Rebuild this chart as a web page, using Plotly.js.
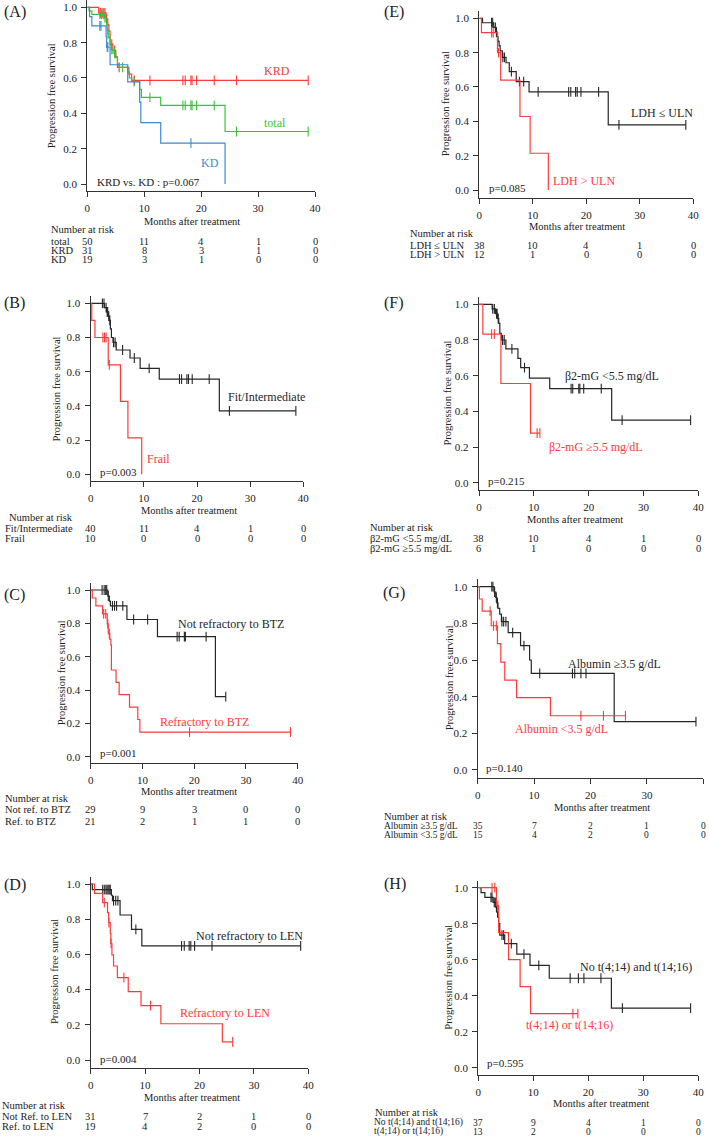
<!DOCTYPE html>
<html><head><meta charset="utf-8">
<script src="https://cdn.plot.ly/plotly-3.0.1.min.js"></script>
<style>html,body{margin:0;padding:0;background:#fff}</style>
</head><body><div id="chart" style="width:709px;height:1137px"></div>
<script>
// ---------------- DATA ----------------
const riskTimes = [0, 10, 20, 30, 40];
const xTicks = [0, 10, 20, 30, 40];
const yTicks = [0, 0.2, 0.4, 0.6, 0.8, 1.0];

// (A)
const A_total_t = [0.3, 0.8, 3.0, 3.3, 3.4, 3.5, 3.6, 3.8, 4.0, 4.2, 4.5, 5.0, 5.3, 5.6, 7.1, 7.4, 7.8, 9.2, 9.5, 12.9, 24.2];
const A_total_s = [0.98, 0.96, 0.94, 0.92, 0.90, 0.875, 0.85, 0.83, 0.785, 0.76, 0.74, 0.715, 0.68, 0.66, 0.635, 0.60, 0.58, 0.535, 0.49, 0.445, 0.297];
const A_total_c = [2.2, 2.5, 2.8, 3.1, 3.65, 4.3, 4.8, 6.2, 8.2, 11.0, 16.8, 17.2, 18.2, 18.4, 19.2, 22.3, 26.2, 38.8];
const A_krd_t = [2.0, 3.3, 3.6, 3.8, 4.0, 4.5, 5.0, 5.3, 7.3, 7.8];
const A_krd_s = [0.968, 0.935, 0.90, 0.865, 0.792, 0.756, 0.72, 0.66, 0.622, 0.587];
const A_krd_c = [2.3, 2.6, 2.9, 3.1, 3.4, 4.3, 4.8, 5.6, 8.3, 11.0, 16.8, 17.2, 18.2, 18.4, 19.2, 22.3, 26.2, 38.8];
const A_kd_t = [0.4, 0.8, 3.3, 3.4, 4.0, 7.1, 9.2, 9.4, 12.9, 24.2];
const A_kd_s = [0.947, 0.895, 0.835, 0.775, 0.675, 0.578, 0.463, 0.347, 0.231, 0];
const A_kd_c = [2.2, 2.4, 3.5, 3.6, 18.2];
const A_riskLabels = ["total", "KRD", "KD"];
const A_risk = [[50, 11, 4, 1, 0], [31, 8, 3, 1, 0], [19, 3, 1, 0, 0]];

// (B)
const B_fit_t = [2.6, 3.0, 3.3, 3.5, 3.7, 3.9, 4.2, 4.8, 7.4, 9.3, 12.9, 24.2];
const B_fit_s = [0.975, 0.95, 0.925, 0.90, 0.85, 0.80, 0.772, 0.727, 0.68, 0.62, 0.557, 0.371];
const B_fit_c = [2.2, 2.5, 2.9, 3.1, 3.2, 3.4, 3.6, 4.3, 4.6, 6.0, 8.2, 11.0, 16.7, 17.1, 18.1, 18.4, 19.1, 22.3, 26.1, 38.6];
const B_frail_t = [0.2, 0.8, 3.3, 5.6, 7.0, 9.6];
const B_frail_s = [0.9, 0.8, 0.64, 0.427, 0.213, 0];
const B_frail_c = [2.3, 2.6, 2.9, 3.5];
const B_riskLabels = ["Fit/Intermediate", "Frail"];
const B_risk = [[40, 11, 4, 1, 0], [10, 0, 0, 0, 0]];

// (C)
const C_not_t = [3.3, 3.6, 3.8, 7.0, 12.9, 24.1];
const C_not_s = [0.964, 0.933, 0.905, 0.823, 0.72, 0.36];
const C_not_c = [2.2, 2.6, 2.9, 3.1, 3.4, 4.2, 4.6, 5.0, 6.2, 8.3, 11.0, 16.7, 17.1, 18.1, 18.3, 22.3, 26.1];
const C_ref_t = [0.3, 1.0, 2.3, 3.2, 3.4, 3.7, 3.9, 4.0, 4.9, 5.5, 7.5, 9.1, 9.5];
const C_ref_s = [0.952, 0.905, 0.857, 0.797, 0.738, 0.704, 0.669, 0.52, 0.446, 0.372, 0.297, 0.223, 0.148];
const C_ref_c = [2.5, 2.9, 3.3, 3.6, 19.1, 38.6];
const C_riskLabels = ["Not ref. to BTZ", "Ref. to BTZ"];
const C_risk = [[29, 9, 3, 0, 0], [21, 2, 1, 1, 0]];

// (D)
const D_not_t = [0.3, 3.8, 4.0, 5.4, 7.5, 9.4];
const D_not_s = [0.968, 0.936, 0.905, 0.824, 0.742, 0.648];
const D_not_c = [2.2, 2.5, 2.8, 3.0, 3.2, 3.4, 3.6, 4.2, 4.6, 5.0, 8.3, 16.7, 17.2, 18.1, 18.4, 19.1, 22.3, 38.6];
const D_ref_t = [0.7, 2.2, 3.1, 3.3, 3.6, 3.7, 3.9, 4.2, 4.9, 6.9, 9.25, 12.9, 24.2];
const D_ref_s = [0.947, 0.894, 0.837, 0.78, 0.72, 0.663, 0.597, 0.534, 0.468, 0.388, 0.309, 0.206, 0.103];
const D_ref_c = [2.5, 3.35, 3.75, 6.1, 11.0, 26.1];
const D_riskLabels = ["Not Ref. to LEN", "Ref. to LEN"];
const D_risk = [[31, 7, 2, 1, 0], [19, 4, 2, 0, 0]];

// (E)
const E_low_t = [0.6, 2.7, 3.1, 3.3, 3.5, 3.7, 3.9, 4.3, 5.0, 5.6, 6.9, 9.3, 24.1];
const E_low_s = [0.974, 0.947, 0.92, 0.893, 0.866, 0.839, 0.81, 0.772, 0.741, 0.689, 0.631, 0.571, 0.379];
const E_low_c = [2.3, 2.5, 3.0, 3.2, 3.4, 4.4, 4.7, 6.0, 7.5, 8.3, 11.0, 16.7, 17.1, 18.0, 18.3, 19.0, 22.3, 26.1, 38.6];
const E_high_t = [0.4, 3.4, 4.0, 7.6, 9.5, 12.9];
const E_high_s = [0.917, 0.80, 0.64, 0.428, 0.214, 0];
const E_high_c = [2.3, 2.6, 3.6];
const E_riskLabels = ["LDH ≤ ULN", "LDH > ULN"];
const E_risk = [[38, 10, 4, 1, 0], [12, 1, 0, 0, 0]];

// (F)
const F_low_t = [2.4, 3.0, 3.4, 3.6, 3.8, 4.1, 4.9, 7.1, 7.6, 9.2, 12.9, 24.2];
const F_low_s = [0.974, 0.947, 0.92, 0.893, 0.837, 0.80, 0.75, 0.697, 0.645, 0.586, 0.527, 0.351];
const F_low_c = [2.5, 2.8, 3.2, 3.3, 3.5, 4.3, 4.6, 6.0, 8.3, 16.8, 17.1, 18.2, 18.4, 19.1, 22.3, 26.1, 38.6];
const F_high_t = [0.7, 4.0, 9.4];
const F_high_s = [0.833, 0.556, 0.278];
const F_high_c = [2.3, 2.8, 10.6, 11.1];
const F_riskLabels = ["β2-mG <5.5 mg/dL", "β2-mG ≥5.5 mg/dL"];
const F_risk = [[38, 10, 4, 1, 0], [6, 1, 0, 0, 0]];

// (G)
const G_high_t = [2.9, 3.2, 3.4, 3.6, 3.9, 4.2, 5.4, 7.6, 9.2, 9.5, 24.2];
const G_high_s = [0.971, 0.941, 0.912, 0.882, 0.85, 0.81, 0.749, 0.678, 0.60, 0.527, 0.264];
const G_high_c = [2.5, 2.7, 3.0, 3.3, 3.5, 4.3, 4.6, 5.0, 6.2, 8.2, 11.0, 16.8, 17.2, 18.3, 19.2, 38.7];
const G_low_t = [0.3, 0.8, 2.4, 3.5, 4.1, 4.8, 6.9, 12.9];
const G_low_s = [0.933, 0.867, 0.787, 0.689, 0.589, 0.49, 0.395, 0.296];
const G_low_c = [2.2, 2.8, 3.3, 18.3, 22.3, 26.2];
const G_riskLabels = ["Albumin ≥3.5 g/dL", "Albumin <3.5 g/dL"];
const G_risk = [[35, 7, 2, 1, 0], [15, 4, 2, 0, 0]];

// (H)
const H_no_t = [0.5, 1.2, 2.7, 3.2, 3.4, 3.5, 3.7, 3.9, 4.8, 7.0, 9.4, 12.9, 24.2];
const H_no_s = [0.973, 0.946, 0.919, 0.891, 0.864, 0.836, 0.80, 0.737, 0.689, 0.631, 0.568, 0.497, 0.331];
const H_no_c = [2.3, 2.5, 2.9, 3.1, 3.3, 4.3, 4.6, 6.0, 8.3, 11.0, 16.7, 18.2, 19.2, 22.3, 26.2, 38.6];
const H_t_t = [3.3, 3.7, 5.5, 7.6, 9.5];
const H_t_s = [0.90, 0.75, 0.60, 0.45, 0.30];
const H_t_c = [2.5, 3.0, 3.55, 17.2, 18.1];
const H_riskLabels = ["No t(4;14) and t(14;16)", "t(4;14) or t(14;16)"];
const H_risk = [[37, 9, 4, 1, 0], [13, 2, 0, 0, 0]];

// ---------------- STYLE / LAYOUT ----------------
const RED = "#ff3a3a", GREEN = "#36c436", BLUE = "#3a8ad6", BLACK = "#262626";
const W = 709, H = 1137;
const FONT = "Liberation Serif, Times New Roman, serif";

const panels = [
  {label: "(A)", g: {L: 87.3, R: 315, y1: 7.3, y0: 184, line: 191}, lab: [15, 12], yt: 51.7, xt: [191.7, 222], nar: [49, 229.5], rowX: 49, rowY: [241, 250, 259], rs: 10.5,
   curves: [[A_krd_t, A_krd_s, A_krd_c, RED], [A_total_t, A_total_s, A_total_c, GREEN], [A_kd_t, A_kd_s, A_kd_c, BLUE]],
   names: [["KRD", 33.3, 0.64, RED], ["total", 32.9, 0.345, GREEN], ["KD", 21.6, 0.117, BLUE]],
   p: ["KRD vs. KD : p=0.067", 1.35, 0.01], rl: A_riskLabels, rv: A_risk},
  {label: "(E)", g: {L: 479.3, R: 693.3, y1: 18.3, y0: 190, line: 198}, lab: [393.5, 12], yt: 445, xt: [577, 226], nar: [408, 233], rowX: 408, rowY: [245, 254], rs: 10.5,
   curves: [[E_low_t, E_low_s, E_low_c, BLACK], [E_high_t, E_high_s, E_high_c, RED]],
   names: [["LDH ≤ ULN", 34.1, 0.447, BLACK], ["LDH > ULN", 19.6, 0.054, RED]],
   p: ["p=0.085", 1.4, 0.01], rl: E_riskLabels, rv: E_risk},
  {label: "(B)", g: {L: 90.7, R: 303.3, y1: 303.3, y0: 474.3, line: 480.7}, lab: [15, 303.3], yt: 56.7, xt: [189, 510], nar: [7, 517.5], rowX: 3, rowY: [528, 538], rs: 10.5,
   curves: [[B_fit_t, B_fit_s, B_fit_c, BLACK], [B_frail_t, B_frail_s, B_frail_c, RED]],
   names: [["Fit/Intermediate", 33.0, 0.454, BLACK], ["Frail", 12.8, 0.088, RED]],
   p: ["p=0.003", 1.43, 0.015], rl: B_riskLabels, rv: B_risk},
  {label: "(F)", g: {L: 479, R: 698.3, y1: 304.3, y0: 482.7, line: 490}, lab: [394, 303], yt: 447, xt: [575, 519], nar: [368, 527.5], rowX: 368, rowY: [538, 548], rs: 10.5,
   curves: [[F_low_t, F_low_s, F_low_c, BLACK], [F_high_t, F_high_s, F_high_c, RED]],
   names: [["β2-mG <5.5 mg/dL", 24.3, 0.598, BLACK], ["β2-mG ≥5.5 mg/dL", 21.3, 0.2, RED]],
   p: ["p=0.215", 1.3, 0.011], rl: F_riskLabels, rv: F_risk},
  {label: "(C)", g: {L: 90.7, R: 297.7, y1: 590, y0: 756.7, line: 763}, lab: [15, 595], yt: 61, xt: [189, 791], nar: [3, 798.5], rowX: 3, rowY: [809, 821.5], rs: 10.5,
   curves: [[C_not_t, C_not_s, C_not_c, BLACK], [C_ref_t, C_ref_s, C_ref_c, RED]],
   names: [["Not refractory to BTZ", 27.2, 0.796, BLACK], ["Refractory to BTZ", 21.9, 0.21, RED]],
   p: ["p=0.001", 1.35, 0.02], rl: C_riskLabels, rv: C_risk},
  {label: "(G)", g: {L: 477.7, R: 703.3, y1: 586.7, y0: 770, line: 778}, lab: [394, 593], yt: 449, xt: [602, 807.5], nar: [382, 816], rowX: 382, rowY: [826.2, 835.2], rs: 9.5,
   curves: [[G_high_t, G_high_s, G_high_c, BLACK], [G_low_t, G_low_s, G_low_c, RED]],
   names: [["Albumin ≥3.5 g/dL", 24.3, 0.578, BLACK], ["Albumin <3.5 g/dL", 14.8, 0.224, RED]],
   p: ["p=0.140", 1.2, 0.009], rl: G_riskLabels, rv: G_risk},
  {label: "(D)", g: {L: 90.7, R: 308.3, y1: 884, y0: 1060, line: 1068}, lab: [15, 885], yt: 54, xt: [192, 1097], nar: [0, 1105.5], rowX: 0, rowY: [1116, 1126], rs: 10.5,
   curves: [[D_not_t, D_not_s, D_not_c, BLACK], [D_ref_t, D_ref_s, D_ref_c, RED]],
   names: [["Not refractory to LEN", 29.1, 0.705, BLACK], ["Refractory to LEN", 24.7, 0.269, RED]],
   p: ["p=0.004", 1.3, 0.004], rl: D_riskLabels, rv: D_risk},
  {label: "(H)", g: {L: 478.3, R: 698.3, y1: 887.7, y0: 1067.7, line: 1075}, lab: [395, 884], yt: 449, xt: [601.3, 1103.5], nar: [373, 1112.5], rowX: 372, rowY: [1122.7, 1131.7], rs: 9.5,
   curves: [[H_no_t, H_no_s, H_no_c, BLACK], [H_t_t, H_t_s, H_t_c, RED]],
   names: [["No t(4;14) and t(14;16)", 28.6, 0.558, BLACK], ["t(4;14) or t(14;16)", 16.6, 0.237, RED]],
   p: ["p=0.595", 1.2, 0.024], rl: H_riskLabels, rv: H_risk}
];

function esc(s) { return s.replace(/&/g, "&amp;").replace(/</g, "&lt;").replace(/>/g, "&gt;"); }
function survAt(t, s, x) { let v = 1; for (let i = 0; i < t.length; i++) if (t[i] <= x) v = s[i]; return v; }
const px = x => x / W;
const py = y => 1 - y / H;

const traces = [];
const layout = {
  width: W, height: H, autosize: false, showlegend: false,
  margin: {l: 0, r: 0, t: 0, b: 0}, paper_bgcolor: "#fff", plot_bgcolor: "rgba(0,0,0,0)",
  font: {family: FONT, color: "#222", size: 11},
  annotations: []
};

panels.forEach((P, i) => {
  const n = i + 1;
  const xa = n === 1 ? "x" : "x" + n, ya = n === 1 ? "y" : "y" + n;
  const g = P.g, unit = g.y0 - g.y1;
  const ymin = -(g.line - g.y0) / unit, ymax = 1.04;
  const topPx = g.y1 - 0.04 * unit;
  layout["xaxis" + (n === 1 ? "" : n)] = {
    domain: [px(g.L), px(g.R)], range: [0, 40], anchor: ya,
    tickvals: xTicks, ticks: "outside", ticklen: 5, tickwidth: 1, tickcolor: "#333",
    showline: true, linecolor: "#333", linewidth: 1.2, showgrid: false, zeroline: false,
    tickfont: {family: FONT, size: 11, color: "#222"}, ticklabelstandoff: 2, fixedrange: true
  };
  layout["yaxis" + (n === 1 ? "" : n)] = {
    domain: [py(g.line), py(topPx)], range: [ymin, ymax], anchor: xa,
    tickvals: yTicks, tickformat: ".1f", ticks: "outside", ticklen: 5, tickwidth: 1, tickcolor: "#333",
    showline: true, linecolor: "#333", linewidth: 1.2, showgrid: false, zeroline: false,
    tickfont: {family: FONT, size: 11, color: "#222"}, ticklabelstandoff: 2, fixedrange: true
  };
  P.curves.forEach(([t, s, c, col]) => {
    const xs = [0].concat(t), ys = [1].concat(s);
    const lastC = c.length ? Math.max(...c) : 0;
    if (lastC > t[t.length - 1]) { xs.push(lastC); ys.push(s[s.length - 1]); }
    traces.push({type: "scatter", mode: "lines", x: xs, y: ys, xaxis: xa, yaxis: ya,
      line: {shape: "hv", color: col, width: 1.2}, hoverinfo: "skip", cliponaxis: false});
    traces.push({type: "scatter", mode: "markers", x: c, y: c.map(v => survAt(t, s, v)), xaxis: xa, yaxis: ya,
      marker: {symbol: "line-ns-open", size: 7, color: col, line: {color: col, width: 1.1}}, hoverinfo: "skip", cliponaxis: false});
  });
  const A = layout.annotations;
  const txt = (text, x, y, opts) => A.push(Object.assign({text: esc(text), x, y, showarrow: false,
    font: {family: FONT, size: 10.5, color: "#222"}, xanchor: "center", yanchor: "middle"}, opts));
  txt(P.label, px(P.lab[0]), py(P.lab[1]), {xref: "paper", yref: "paper", font: {family: FONT, size: 16, color: "#222"}});
  txt("Progression free survival", px(P.yt), py((g.y1 + g.y0) / 2), {xref: "paper", yref: "paper", textangle: -90});
  txt("Months after treatment", px(P.xt[0]), py(P.xt[1]), {xref: "paper", yref: "paper"});
  P.names.forEach(([t, x, y, col]) => txt(t, x, y, {xref: xa, yref: ya, font: {family: FONT, size: 12, color: col}}));
  txt(P.p[0], P.p[1], P.p[2], {xref: xa, yref: ya, xanchor: "left", font: {family: FONT, size: 11, color: "#222"}});
  txt("Number at risk", px(P.nar[0]), py(P.nar[1]), {xref: "paper", yref: "paper", xanchor: "left"});
  const rf = {family: FONT, size: P.rs, color: "#222"};
  P.rl.forEach((lab, r) => {
    txt(lab, px(P.rowX), py(P.rowY[r]), {xref: "paper", yref: "paper", xanchor: "left", font: rf});
    P.rv[r].forEach((v, k) => txt(String(v), riskTimes[k], py(P.rowY[r]), {xref: xa, yref: "paper", font: rf}));
  });
});

Plotly.newPlot("chart", traces, layout, {staticPlot: true, displayModeBar: false});
</script></body></html>
